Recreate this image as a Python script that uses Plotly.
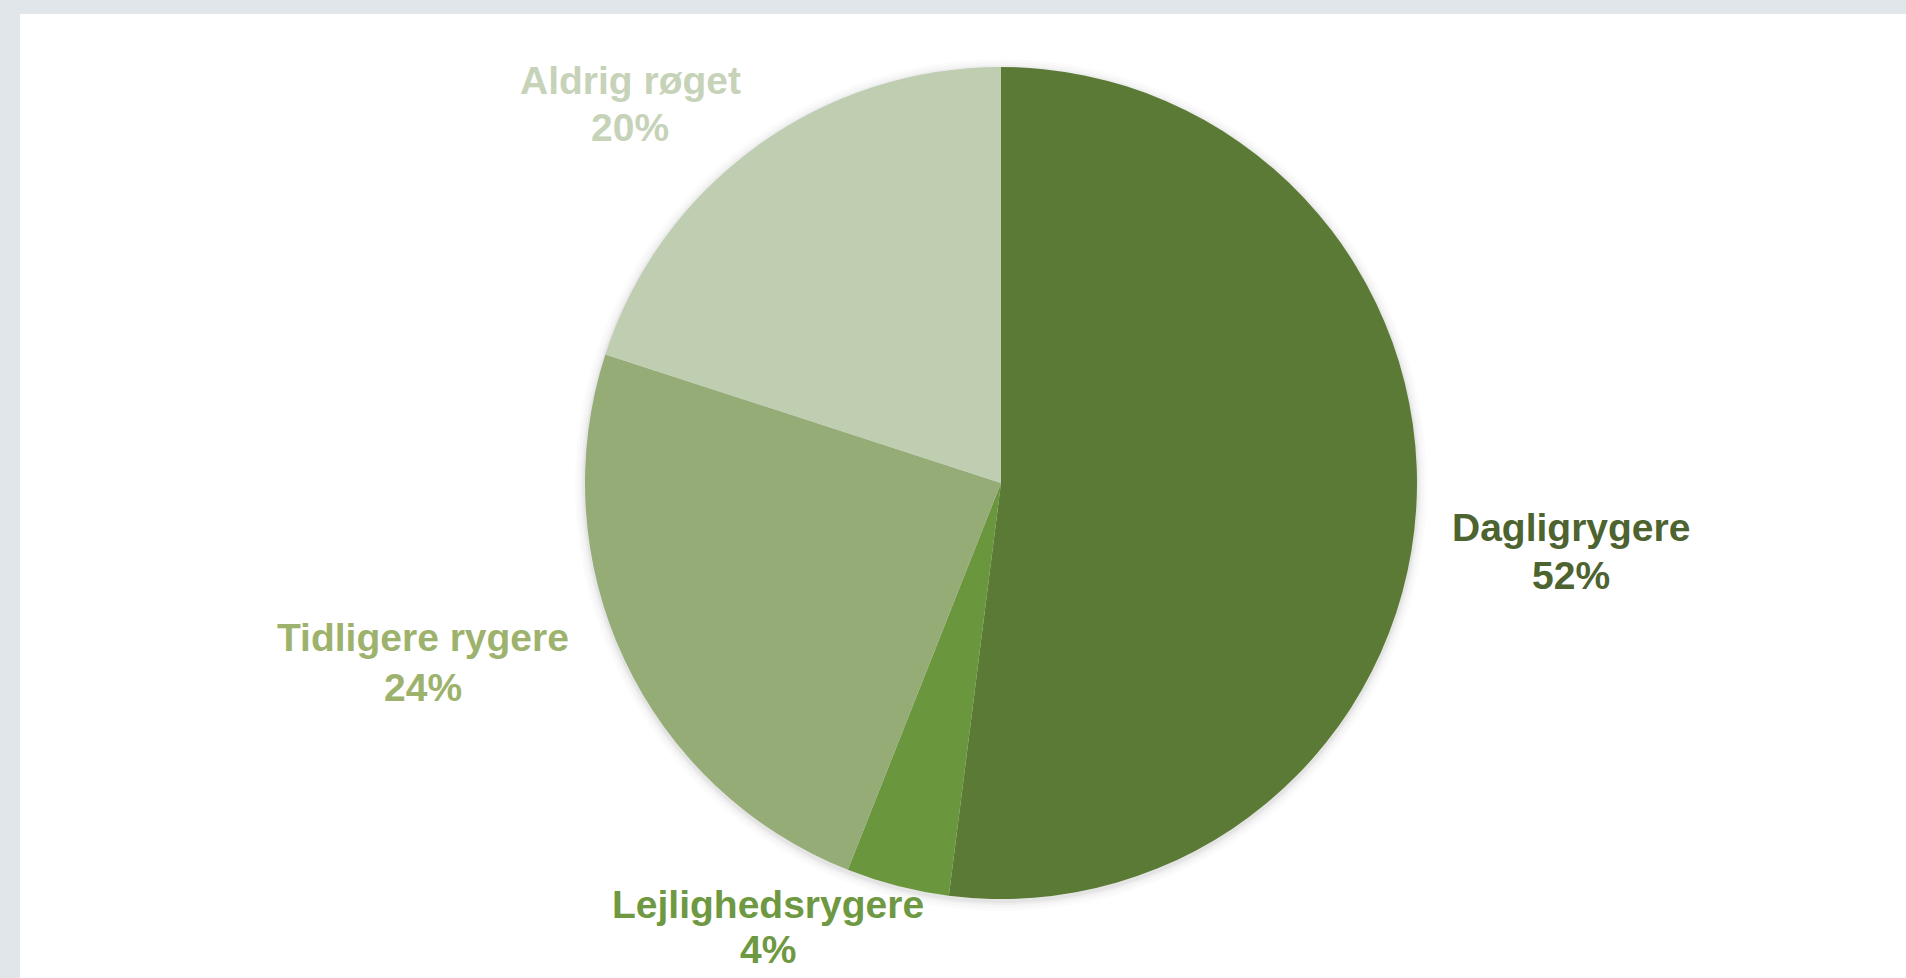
import plotly.graph_objects as go

# Smoking status shares (percent)
categories = ["Dagligrygere", "Lejlighedsrygere", "Tidligere rygere", "Aldrig røget"]
shares = [52, 4, 24, 20]
slice_colors = ["#5a7a36", "#6a973d", "#95ac76", "#bfcdb1"]
label_colors = ["#4d6330", "#6f9842", "#9db26c", "#c6d3b8"]

# Label anchor points in pixels (x, centre of first line, centre of second line)
label_pos = [(1571, 527, 575), (768, 904, 949), (423, 637, 687), (630, 81, 128)]

W, H = 1906, 978
cx, cy, r = 1001, 483, 416

fig = go.Figure()
fig.add_trace(go.Pie(
    labels=categories,
    values=shares,
    sort=False,
    direction="clockwise",
    rotation=0,
    marker=dict(colors=slice_colors, line=dict(width=0)),
    textinfo="none",
    hoverinfo="label+percent",
    showlegend=False,
    domain=dict(x=[(cx - r) / W, (cx + r) / W], y=[1 - (cy + r) / H, 1 - (cy - r) / H]),
))

font_family = "Liberation Sans, Arial, sans-serif"
annotations = []
for name, val, col, (lx, y1, y2) in zip(categories, shares, label_colors, label_pos):
    for txt, yy in ((f"<b>{name}</b>", y1), (f"<b>{val}%</b>", y2)):
        annotations.append(dict(
            x=lx / W, y=1 - yy / H, xref="paper", yref="paper",
            text=txt, showarrow=False, xanchor="center", yanchor="middle",
            font=dict(family=font_family, size=39, color=col),
        ))

shapes = [
    # white card on the grey page
    dict(type="rect", xref="paper", yref="paper", x0=20 / W, x1=1, y0=0, y1=1 - 14 / H,
         fillcolor="#ffffff", line=dict(width=0), layer="below"),
]
# soft shadow ring around the pie
for k, a in ((10, 0.015), (7, 0.02), (4, 0.03), (2, 0.04)):
    shapes.append(dict(type="circle", xref="paper", yref="paper",
                       x0=(cx - r - k) / W, x1=(cx + r + k) / W,
                       y0=1 - (cy + r + k + 2) / H, y1=1 - (cy - r - k + 2) / H,
                       fillcolor=f"rgba(0,0,0,{a})", line=dict(width=0), layer="below"))

fig.update_layout(
    width=W, height=H,
    margin=dict(l=0, r=0, t=0, b=0),
    paper_bgcolor="#e1e6ea",
    plot_bgcolor="#ffffff",
    annotations=annotations,
    shapes=shapes,
)

fig.write_html("out.html", config={"displayModeBar": False})
